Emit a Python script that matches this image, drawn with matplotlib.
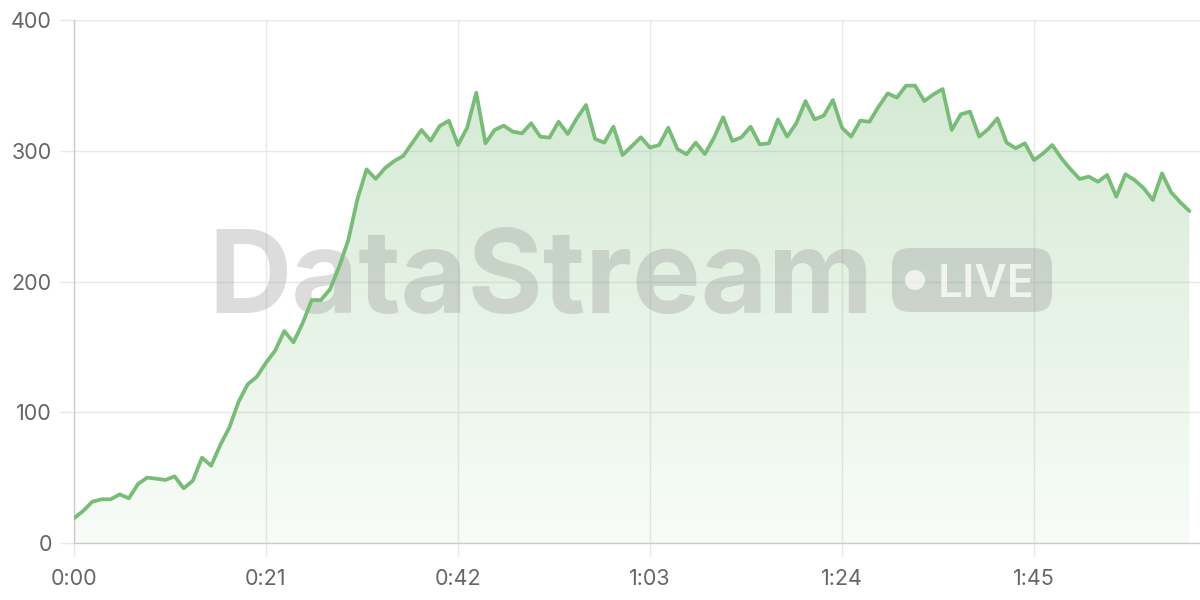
import numpy as np
import matplotlib
matplotlib.use("Agg")
import matplotlib.pyplot as plt
from matplotlib.patches import FancyBboxPatch, Circle
from matplotlib.transforms import IdentityTransform
from matplotlib.colors import LinearSegmentedColormap

# ---- data ----
seconds = list(range(123))
values = [19, 24.5, 31.6, 33.4, 33.4, 37.2, 34.2, 45.1, 50, 49.2,
          48.2, 51, 41.8, 47.7, 65.3, 59.1, 75, 88.5, 108, 121.4,
          127.2, 137.9, 147.1, 162.1, 153.5, 168, 185.8, 185.8, 194, 211.3,
          231.7, 263, 285.8, 278.5, 286.6, 292, 296, 306, 315.9, 307.7,
          318.9, 323, 304.4, 317.6, 344.4, 305.7, 315.9, 319.2, 314.6, 313.3,
          321, 310.8, 310, 322.2, 312.8, 324.8, 335, 309, 306.2, 318.4,
          296.7, 303.5, 310.3, 302.4, 304.4, 317.6, 301.3, 297.3, 306.2, 297.5,
          310, 325.6, 307.5, 310.3, 318.4, 304.9, 305.7, 324, 310.8, 321,
          338, 324, 326.8, 338.8, 317.6, 310.8, 323, 322.2, 333.7, 343.9,
          340.6, 349.8, 349.8, 338, 343.1, 347.2, 315.9, 327.9, 329.9, 310.8,
          316.6, 324.8, 306.2, 301.9, 305.7, 292.9, 298, 304.4, 294.2, 285.8,
          278.4, 280.2, 276.3, 281.5, 264.9, 282, 277.6, 271.3, 262.3, 282.7,
          268.2, 260.6, 253.9]
x_ticks = [0, 21, 42, 63, 84, 105]
x_tick_labels = ["0:00", "0:21", "0:42", "1:03", "1:24", "1:45"]
y_ticks = [0, 100, 200, 300, 400]
watermark = "DataStream"
badge_text = "LIVE"

# ---- style ----
plt.rcParams['font.family'] = ['Inter', 'DejaVu Sans']
line_color = '#78bc78'
grid_color = '#e8e8e8'
axis_color = '#cccccc'
label_color = '#666666'

fig = plt.figure(figsize=(12, 6), dpi=100)
ax = fig.add_axes([74/1200, 57/600, 1126/1200, 523/600])

# gradient fill under the line
rgb = (0.478, 0.745, 0.478)
cmap = LinearSegmentedColormap.from_list('g', [(*rgb, 0.05), (*rgb, 0.32)])
grad = np.linspace(0, 1, 256).reshape(-1, 1)
im = ax.imshow(grad, extent=[seconds[0], seconds[-1], 0, max(values)],
               origin='lower', aspect='auto', cmap=cmap, zorder=1,
               interpolation='bilinear')
poly = ax.fill_between(seconds, values, 0, color='none', lw=0)
im.set_clip_path(poly.get_paths()[0], transform=ax.transData)

ax.plot(seconds, values, color=line_color, lw=2.7, zorder=4,
        solid_joinstyle='round', solid_capstyle='round')

ax.set_xlim(0, 1126 / (192 / 21))
ax.set_ylim(0, 400)
ax.set_xticks(x_ticks)
ax.set_xticklabels(x_tick_labels)
ax.set_yticks(y_ticks)

ax.grid(True, color=grid_color, lw=1, zorder=0)
ax.set_axisbelow(True)
for s in ['top', 'right']:
    ax.spines[s].set_visible(False)
for s in ['left', 'bottom']:
    ax.spines[s].set_color(axis_color)
    ax.spines[s].set_linewidth(1)
ax.tick_params(axis='both', length=10, width=1, color=grid_color,
               labelcolor=label_color, labelsize=15.5)
ax.tick_params(axis='y', pad=6)
ax.tick_params(axis='x', pad=9)

# watermark
wm_color = (0.59, 0.59, 0.59, 0.33)
ax.text(208/1200, (600-313)/600, watermark, transform=fig.transFigure,
        fontsize=83, fontweight='bold', color=wm_color, ha='left',
        va='baseline', zorder=3, clip_on=False)
badge = FancyBboxPatch((892, 288), 160, 64,
                       boxstyle='round,pad=0,rounding_size=18',
                       transform=IdentityTransform(), fc=wm_color, ec='none',
                       zorder=3, clip_on=False)
ax.add_artist(badge)
dot = Circle((915, 320), 10, transform=IdentityTransform(),
             fc=(1, 1, 1, 0.7), ec='none', zorder=3.1, clip_on=False)
ax.add_artist(dot)
ax.text(938, 303, badge_text, transform=IdentityTransform(), fontsize=32,
        fontweight='semibold', color=(1, 1, 1, 0.75), ha='left', va='baseline',
        zorder=3.1, clip_on=False)

fig.savefig('out.png', dpi=100)
